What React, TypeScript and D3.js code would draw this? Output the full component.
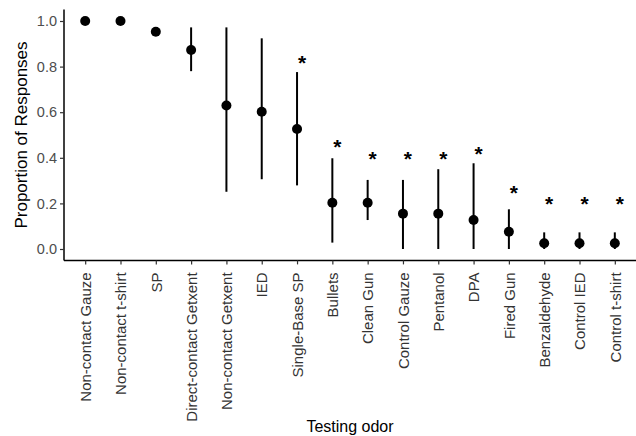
import { useEffect, useRef } from 'react';
import { select, scaleLinear, scalePoint, axisLeft, axisBottom } from 'd3';

const categories = [
  'Non-contact Gauze',
  'Non-contact t-shirt',
  'SP',
  'Direct-contact Getxent',
  'Non-contact Getxent',
  'IED',
  'Single-Base SP',
  'Bullets',
  'Clean Gun',
  'Control Gauze',
  'Pentanol',
  'DPA',
  'Fired Gun',
  'Benzaldehyde',
  'Control IED',
  'Control t-shirt',
];
const proportion = [1.0, 1.0, 0.953, 0.873, 0.629, 0.602, 0.526, 0.203, 0.203, 0.155, 0.155, 0.127, 0.076, 0.025, 0.025, 0.025];
const lower = [1.0, 1.0, 0.953, 0.78, 0.251, 0.306, 0.279, 0.028, 0.127, 0.0, 0.0, 0.0, 0.0, 0.0, 0.0, 0.0];
const upper = [1.0, 1.0, 0.953, 0.972, 0.972, 0.924, 0.776, 0.398, 0.303, 0.303, 0.35, 0.376, 0.174, 0.073, 0.073, 0.073];
// asterisk height (null = not significant)
const starAt = [null, null, null, null, null, null, 0.836, 0.47, 0.417, 0.417, 0.417, 0.44, 0.266, 0.218, 0.218, 0.218];
const yTicks = [0, 0.2, 0.4, 0.6, 0.8, 1.0];

const App = () => {
  const ref = useRef<SVGSVGElement>(null);

  useEffect(() => {
    const width = 636;
    const height = 436;
    const left = 64;
    const svg = select(ref.current);
    svg.selectAll('*').remove();
    svg.attr('width', width).attr('height', height);

    const y = scaleLinear().domain([0, 1]).range([249, 21]);
    const bottom = y(-0.05);
    const top = y(1.05);
    const x = scalePoint<string>().domain(categories).range([left, width]).padding(0.6);

    const font = 'Arial, "Liberation Sans", sans-serif';

    // y axis
    const gy = svg
      .append('g')
      .attr('transform', `translate(${left},0)`)
      .call(axisLeft(y).tickValues(yTicks).tickFormat((d) => Number(d).toFixed(1)).tickSize(4).tickPadding(3));
    gy.select('.domain').attr('d', `M0,${bottom}V${top}`).attr('stroke', '#000').attr('stroke-width', 1.5);
    gy.selectAll('.tick line').attr('stroke', '#333').attr('stroke-width', 1.2);
    gy.selectAll('.tick text').attr('fill', '#4d4d4d').attr('font-size', 14.5).attr('font-family', font);

    // x axis
    const gx = svg
      .append('g')
      .attr('transform', `translate(0,${bottom})`)
      .call(axisBottom(x).tickSize(4).tickSizeOuter(0));
    gx.select('.domain').attr('d', `M${left},0H${width}`).attr('stroke', '#000').attr('stroke-width', 1.5);
    gx.selectAll('.tick line').attr('stroke', '#333').attr('stroke-width', 1.2);
    gx.selectAll('.tick text')
      .attr('fill', '#333')
      .attr('font-size', 15)
      .attr('font-family', font)
      .attr('transform', 'rotate(-90)')
      .attr('text-anchor', 'end')
      .attr('x', -12)
      .attr('y', 0)
      .attr('dy', '0.35em');

    // error bars
    svg
      .append('g')
      .selectAll('line')
      .data(categories)
      .enter()
      .append('line')
      .attr('x1', (d) => x(d))
      .attr('x2', (d) => x(d))
      .attr('y1', (_, i) => y(lower[i]))
      .attr('y2', (_, i) => y(upper[i]))
      .attr('stroke', '#000')
      .attr('stroke-width', 2);

    // points
    svg
      .append('g')
      .selectAll('circle')
      .data(categories)
      .enter()
      .append('circle')
      .attr('cx', (d) => x(d))
      .attr('cy', (_, i) => y(proportion[i]))
      .attr('r', 5)
      .attr('fill', '#000');

    // asterisks
    svg
      .append('g')
      .selectAll('text')
      .data(categories.filter((_, i) => starAt[i] !== null))
      .enter()
      .append('text')
      .attr('x', (d) => x(d) + 5)
      .attr('y', (d) => y(starAt[categories.indexOf(d)] as number) + 12)
      .attr('text-anchor', 'middle')
      .attr('font-size', 21)
      .attr('font-weight', 'bold')
      .attr('font-family', font)
      .attr('fill', '#000')
      .text('*');

    // titles
    svg
      .append('text')
      .attr('transform', `translate(27,${(top + bottom) / 2}) rotate(-90)`)
      .attr('text-anchor', 'middle')
      .attr('font-size', 17)
      .attr('font-family', font)
      .attr('fill', '#000')
      .text('Proportion of Responses');

    svg
      .append('text')
      .attr('x', (left + width) / 2)
      .attr('y', 432)
      .attr('text-anchor', 'middle')
      .attr('font-size', 16)
      .attr('font-family', font)
      .attr('fill', '#000')
      .text('Testing odor');
  }, []);

  return (
    <svg
      ref={ref}
      style={{ position: 'absolute', left: 0, top: 0, background: '#fff' }}
    ></svg>
  );
};

export default App;
